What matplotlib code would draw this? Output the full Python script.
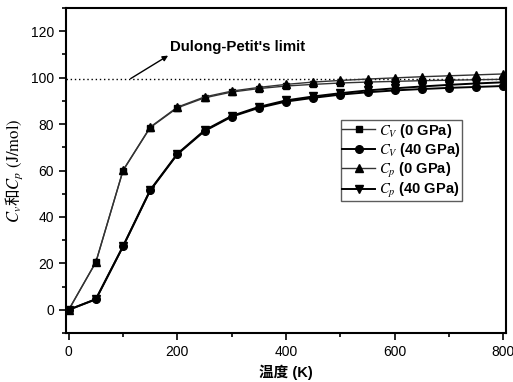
import matplotlib
matplotlib.use("Agg")
import matplotlib.pyplot as plt
from matplotlib.ticker import MultipleLocator

plt.rcParams['mathtext.fontset'] = 'stix'
plt.rcParams['font.family'] = ['Liberation Sans', 'Noto Sans CJK SC']

T = [0, 50, 100, 150, 200, 250, 300, 350, 400, 450, 500, 550, 600, 650, 700, 750, 800]
cv_0 = [0, 20.5, 60.0, 78.5, 87.0, 91.3, 93.8, 95.3, 96.4, 97.1, 97.7, 98.1, 98.4, 98.7, 98.9, 99.1, 99.3]
cv_40 = [0, 4.5, 27.3, 51.4, 67.0, 77.0, 83.2, 87.0, 89.7, 91.3, 92.7, 93.7, 94.5, 95.1, 95.6, 96.0, 96.4]
cp_0 = [0, 20.6, 60.1, 78.7, 87.3, 91.7, 94.2, 95.8, 97.1, 98.1, 98.8, 99.4, 99.9, 100.4, 100.8, 101.2, 101.6]
cp_40 = [0, 4.6, 27.4, 51.6, 67.2, 77.3, 83.5, 87.4, 90.2, 91.9, 93.3, 94.5, 95.4, 96.2, 96.9, 97.5, 98.0]
dulong_petit = 99.5

fig = plt.figure(figsize=(5.13, 3.82), dpi=100)
ax = fig.add_axes([0.1287, 0.1283, 0.8577, 0.8507])

ax.axhline(dulong_petit, color='black', linestyle=(0, (1, 2)), linewidth=1.0, zorder=1)

ax.plot(T, cv_0, color='#333333', lw=1.0, marker='s', ms=5, mfc='black', mec='black', label=r'$C_V$ (0 GPa)')
ax.plot(T, cv_40, color='black', lw=1.4, marker='o', ms=5.5, mfc='black', mec='black', label=r'$C_V$ (40 GPa)')
ax.plot(T, cp_0, color='#333333', lw=1.0, marker='^', ms=6, mfc='black', mec='black', label=r'$C_p$ (0 GPa)')
ax.plot(T, cp_40, color='black', lw=1.4, marker='v', ms=6, mfc='black', mec='black', label=r'$C_p$ (40 GPa)')

ax.set_xlim(-5, 805)
ax.set_ylim(-10, 130)
ax.xaxis.set_major_locator(MultipleLocator(200))
ax.xaxis.set_minor_locator(MultipleLocator(100))
ax.yaxis.set_major_locator(MultipleLocator(20))
ax.yaxis.set_minor_locator(MultipleLocator(10))
ax.set_yticks([0, 20, 40, 60, 80, 100, 120])
ax.tick_params(which='both', direction='out', top=False, right=False, labelsize=10, width=1.2)
ax.tick_params(which='major', length=5)
ax.tick_params(which='minor', length=3)
for s in ax.spines.values():
    s.set_linewidth(1.5)

ax.set_xlabel('温度 (K)', fontsize=10.5, fontweight='bold', family=['Liberation Sans', 'Noto Sans CJK SC'], labelpad=4)
ax.set_ylabel(r'$C_v$和$C_p\ \mathrm{(J/mol)}$', fontsize=12, family='Noto Sans CJK SC', labelpad=4)

ax.annotate("Dulong-Petit's limit", xy=(183, 109.5), xytext=(187, 113.2),
            fontsize=10.8, fontweight='bold', va='center', ha='left')
ax.annotate("", xy=(183, 109.5), xytext=(114, 99.6),
            arrowprops=dict(arrowstyle='-|>', color='black', lw=1.0, mutation_scale=8, shrinkA=0, shrinkB=0))

leg = ax.legend(loc='upper left', bbox_to_anchor=(0.625, 0.655), frameon=True, fancybox=False,
                edgecolor='#333333', prop={'weight': 'bold', 'size': 10.5}, handlelength=2.2,
                handletextpad=0.3, borderpad=0.1, labelspacing=0.1, borderaxespad=0)
leg.get_frame().set_linewidth(1.0)

fig.savefig('out.png', dpi=100)
